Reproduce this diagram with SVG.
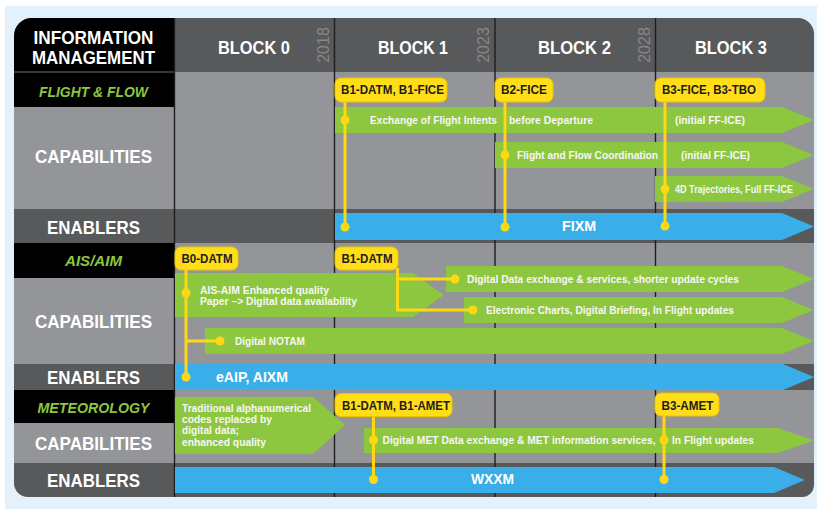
<svg xmlns="http://www.w3.org/2000/svg" width="817" height="509" viewBox="0 0 817 509">
<defs>
<style>
  text{font-family:"Liberation Sans",Arial,Helvetica,sans-serif;font-weight:bold}
  .side{fill:#fff;font-size:19px;text-anchor:middle}
  .title{fill:#8dc63f;font-size:15.5px;font-style:italic;text-anchor:middle}
  .blk{fill:#fff;font-size:19px;text-anchor:middle}
  .yr{fill:#86878a;font-size:16px;font-weight:normal;text-anchor:middle}
  .cap{fill:#8dc63f}
  .enb{fill:#3aaee8}
  .ct{fill:#f7f7f7;font-size:11px}
  .et{fill:#fff;font-size:15px}
  .tag rect{fill:#ffde17;stroke:#eec300;stroke-width:1}
  .tag text{fill:#1d1d1b;font-size:12px;text-anchor:middle}
  .wire{stroke:#ffd815;stroke-width:3;fill:none}
  .dot{fill:#ffd815}
  .div{stroke:#1e1e1e;stroke-width:1.4}
</style>
<clipPath id="panel">
  <path d="M32,18 H798 A16,16 0 0 1 814,34 V485 A12,12 0 0 1 802,497 H28 A14,14 0 0 1 14,483 V36 A18,18 0 0 1 32,18 Z"/>
</clipPath>
</defs>

<!-- page -->
<rect x="0" y="0" width="817" height="509" fill="#fff"/>
<rect x="5" y="6" width="812" height="503" fill="#e2f1fb"/>

<!-- table background -->
<g id="table" clip-path="url(#panel)">
  <rect x="14" y="18" width="800" height="54" fill="#58595b"/>
  <rect x="14" y="72" width="800" height="137" fill="#939598"/>
  <rect x="14" y="209" width="800" height="34" fill="#58595b"/>
  <rect x="14" y="243" width="800" height="121" fill="#939598"/>
  <rect x="14" y="364" width="800" height="26" fill="#58595b"/>
  <rect x="14" y="390" width="800" height="73" fill="#939598"/>
  <rect x="14" y="463" width="800" height="34" fill="#58595b"/>
  <!-- left heading cells -->
  <rect x="14" y="18" width="160" height="54" fill="#000"/>
  <rect x="14" y="72" width="160" height="35" fill="#000"/>
  <rect x="14" y="243" width="160" height="35" fill="#000"/>
  <rect x="14" y="390" width="160" height="33" fill="#000"/>
  <line x1="14" y1="72" x2="174" y2="72" stroke="#6d6e71" stroke-width="1.2"/>
  <!-- block dividers -->
  <line class="div" x1="174.5" y1="18" x2="174.5" y2="497"/>
  <line class="div" x1="334.5" y1="18" x2="334.5" y2="497"/>
  <line class="div" x1="495" y1="18" x2="495" y2="497"/>
  <line class="div" x1="655.5" y1="18" x2="655.5" y2="497"/>
</g>

<!-- row headings -->
<g id="row-heads">
  <text class="side" x="93.5" y="44.2" font-size="16" textLength="120" lengthAdjust="spacingAndGlyphs">INFORMATION</text>
  <text class="side" x="93.5" y="63.5" font-size="16" textLength="123" lengthAdjust="spacingAndGlyphs">MANAGEMENT</text>
  <text class="title" x="93.5" y="96.5" textLength="109" lengthAdjust="spacingAndGlyphs">FLIGHT &amp; FLOW</text>
  <text class="side" x="93.5" y="163" textLength="117" lengthAdjust="spacingAndGlyphs">CAPABILITIES</text>
  <text class="side" x="93.5" y="234" textLength="93" lengthAdjust="spacingAndGlyphs">ENABLERS</text>
  <text class="title" x="93.5" y="265.7" textLength="57" lengthAdjust="spacingAndGlyphs">AIS/AIM</text>
  <text class="side" x="93.5" y="328.3" textLength="117" lengthAdjust="spacingAndGlyphs">CAPABILITIES</text>
  <text class="side" x="93.5" y="384" textLength="93" lengthAdjust="spacingAndGlyphs">ENABLERS</text>
  <text class="title" x="93.5" y="413.3" font-size="16" textLength="112" lengthAdjust="spacingAndGlyphs">METEOROLOGY</text>
  <text class="side" x="93.5" y="450" textLength="117" lengthAdjust="spacingAndGlyphs">CAPABILITIES</text>
  <text class="side" x="93.5" y="487.3" textLength="93" lengthAdjust="spacingAndGlyphs">ENABLERS</text>
</g>

<!-- block headings -->
<g id="block-heads">
  <text class="blk" x="254" y="54" textLength="72" lengthAdjust="spacingAndGlyphs">BLOCK 0</text>
  <text class="blk" x="413" y="54" textLength="70" lengthAdjust="spacingAndGlyphs">BLOCK 1</text>
  <text class="blk" x="574.5" y="54" textLength="73" lengthAdjust="spacingAndGlyphs">BLOCK 2</text>
  <text class="blk" x="731" y="54" textLength="72" lengthAdjust="spacingAndGlyphs">BLOCK 3</text>
  <text class="yr" transform="translate(329,45) rotate(-90)">2018</text>
  <text class="yr" transform="translate(489,45) rotate(-90)">2023</text>
  <text class="yr" transform="translate(649.5,45) rotate(-90)">2028</text>
</g>

<!-- flight & flow -->
<g id="ff-intents">
  <polygon class="cap" points="335,107 782,107 814,120 782,133 335,133"/>
  <text class="ct" x="370" y="123.5" textLength="127" lengthAdjust="spacingAndGlyphs">Exchange of Flight Intents</text>
  <text class="ct" x="509" y="123.5" textLength="84" lengthAdjust="spacingAndGlyphs">before Departure</text>
  <text class="ct" x="675" y="123.5" textLength="70" lengthAdjust="spacingAndGlyphs">(initial FF-ICE)</text>
</g>
<g id="ff-coordination">
  <polygon class="cap" points="495,142 782,142 814,155 782,168 495,168"/>
  <text class="ct" x="517" y="158.5" textLength="141" lengthAdjust="spacingAndGlyphs">Flight and Flow Coordination</text>
  <text class="ct" x="681" y="158.5" textLength="69" lengthAdjust="spacingAndGlyphs">(initial FF-ICE)</text>
</g>
<g id="ff-trajectories">
  <polygon class="cap" points="655,176 782,176 814,189 782,202 655,202"/>
  <text class="ct" x="675" y="192.5" font-size="10.5" textLength="118" lengthAdjust="spacingAndGlyphs">4D Trajectories, Full FF-ICE</text>
</g>
<g id="ff-fixm">
  <polygon class="enb" points="335,213 782,213 814,226.5 782,240 335,240"/>
  <text class="et" x="579" y="231" text-anchor="middle" textLength="34" lengthAdjust="spacingAndGlyphs">FIXM</text>
</g>

<!-- AIS / AIM -->
<g id="ais-quality">
  <polygon class="cap" points="175,273 413,273 444,295 413,317 175,317"/>
  <text class="ct" x="200" y="294" textLength="129" lengthAdjust="spacingAndGlyphs">AIS-AIM Enhanced quality</text>
  <text class="ct" x="200" y="305" textLength="157" lengthAdjust="spacingAndGlyphs">Paper –&gt; Digital data availability</text>
</g>
<g id="ais-exchange">
  <polygon class="cap" points="446,266 782,266 814,279 782,292 446,292"/>
  <text class="ct" x="467" y="283" textLength="272" lengthAdjust="spacingAndGlyphs">Digital Data exchange &amp; services, shorter update cycles</text>
</g>
<g id="ais-charts">
  <polygon class="cap" points="464,297 782,297 814,310 782,323 464,323"/>
  <text class="ct" x="486" y="314" textLength="248" lengthAdjust="spacingAndGlyphs">Electronic Charts, Digital Briefing, In Flight updates</text>
</g>
<g id="ais-notam">
  <polygon class="cap" points="205,328 782,328 814,341 782,354 205,354"/>
  <text class="ct" x="235" y="344.5" textLength="70" lengthAdjust="spacingAndGlyphs">Digital NOTAM</text>
</g>
<g id="ais-eaip">
  <polygon class="enb" points="175,364 783,364 814,377 783,390 175,390"/>
  <text class="et" x="216" y="381.5" textLength="72" lengthAdjust="spacingAndGlyphs">eAIP, AIXM</text>
</g>

<!-- meteorology -->
<g id="met-codes">
  <polygon class="cap" points="175,397 313,397 345,425 313,454 175,454"/>
  <text class="ct" x="182" y="411.7" textLength="129" lengthAdjust="spacingAndGlyphs">Traditional alphanumerical</text>
  <text class="ct" x="182" y="422.9" textLength="90" lengthAdjust="spacingAndGlyphs">codes replaced by</text>
  <text class="ct" x="182" y="434.1" textLength="57" lengthAdjust="spacingAndGlyphs">digital data;</text>
  <text class="ct" x="182" y="445.8" textLength="84" lengthAdjust="spacingAndGlyphs">enhanced quality</text>
</g>
<g id="met-exchange">
  <polygon class="cap" points="364,428 778,428 814,440.5 778,453 364,453"/>
  <text class="ct" x="382.5" y="444" textLength="273" lengthAdjust="spacingAndGlyphs">Digital MET Data exchange &amp; MET information services,</text>
  <text class="ct" x="672" y="444" textLength="82" lengthAdjust="spacingAndGlyphs">In Flight updates</text>
</g>
<g id="met-wxxm">
  <polygon class="enb" points="175,467 774,467 805,480 774,493 175,493"/>
  <text class="et" x="492.5" y="484.3" text-anchor="middle" textLength="43" lengthAdjust="spacingAndGlyphs">WXXM</text>
</g>

<!-- connectors from module tags to capabilities and enablers -->
<g id="connectors">
  <path class="wire" d="M345,100 V227"/>
  <circle class="dot" cx="345" cy="120" r="4.5"/>
  <circle class="dot" cx="345" cy="227" r="4.5"/>
  <path class="wire" d="M505,100 V227"/>
  <circle class="dot" cx="505" cy="155" r="4.5"/>
  <circle class="dot" cx="505" cy="227" r="4.5"/>
  <path class="wire" d="M665,100 V226"/>
  <circle class="dot" cx="665" cy="189" r="4.5"/>
  <circle class="dot" cx="665" cy="226" r="4.5"/>

  <path class="wire" d="M186,268 V377 M186,341 H220"/>
  <circle class="dot" cx="186" cy="293" r="4.5"/>
  <circle class="dot" cx="220" cy="341" r="4.5"/>
  <circle class="dot" cx="186" cy="377" r="4.5"/>
  <path class="wire" d="M397.5,268 V310 H473 M397.5,279 H455"/>
  <circle class="dot" cx="455" cy="279" r="4.5"/>
  <circle class="dot" cx="473" cy="310" r="4.5"/>

  <path class="wire" d="M373.5,415 V479"/>
  <circle class="dot" cx="373.5" cy="440" r="4.5"/>
  <circle class="dot" cx="373.5" cy="479.5" r="4.5"/>
  <path class="wire" d="M664,414 V479"/>
  <circle class="dot" cx="664" cy="440" r="4.5"/>
  <circle class="dot" cx="664" cy="479.5" r="4.5"/>
</g>

<!-- module tags -->
<g id="tag-b1-datm-fice" class="tag">
  <rect x="335" y="78" width="112" height="24" rx="6"/>
  <text x="392.5" y="94" textLength="103" lengthAdjust="spacingAndGlyphs">B1-DATM, B1-FICE</text>
</g>
<g id="tag-b2-fice" class="tag">
  <rect x="495" y="78" width="58" height="24" rx="6"/>
  <text x="524" y="94" textLength="46" lengthAdjust="spacingAndGlyphs">B2-FICE</text>
</g>
<g id="tag-b3-fice-tbo" class="tag">
  <rect x="655" y="78" width="110" height="24" rx="6"/>
  <text x="709" y="94" textLength="94" lengthAdjust="spacingAndGlyphs">B3-FICE, B3-TBO</text>
</g>
<g id="tag-b0-datm" class="tag">
  <rect x="175" y="247" width="63" height="23" rx="6"/>
  <text x="207" y="262.7" textLength="51" lengthAdjust="spacingAndGlyphs">B0-DATM</text>
</g>
<g id="tag-b1-datm" class="tag">
  <rect x="335" y="247" width="63" height="23" rx="6"/>
  <text x="367" y="262.7" textLength="51" lengthAdjust="spacingAndGlyphs">B1-DATM</text>
</g>
<g id="tag-b1-datm-amet" class="tag">
  <rect x="335" y="393.5" width="117" height="23" rx="6"/>
  <text x="396" y="409.5" textLength="108" lengthAdjust="spacingAndGlyphs">B1-DATM, B1-AMET</text>
</g>
<g id="tag-b3-amet" class="tag">
  <rect x="655" y="393" width="64" height="23" rx="6"/>
  <text x="687.5" y="409.5" textLength="52" lengthAdjust="spacingAndGlyphs">B3-AMET</text>
</g>
</svg>
